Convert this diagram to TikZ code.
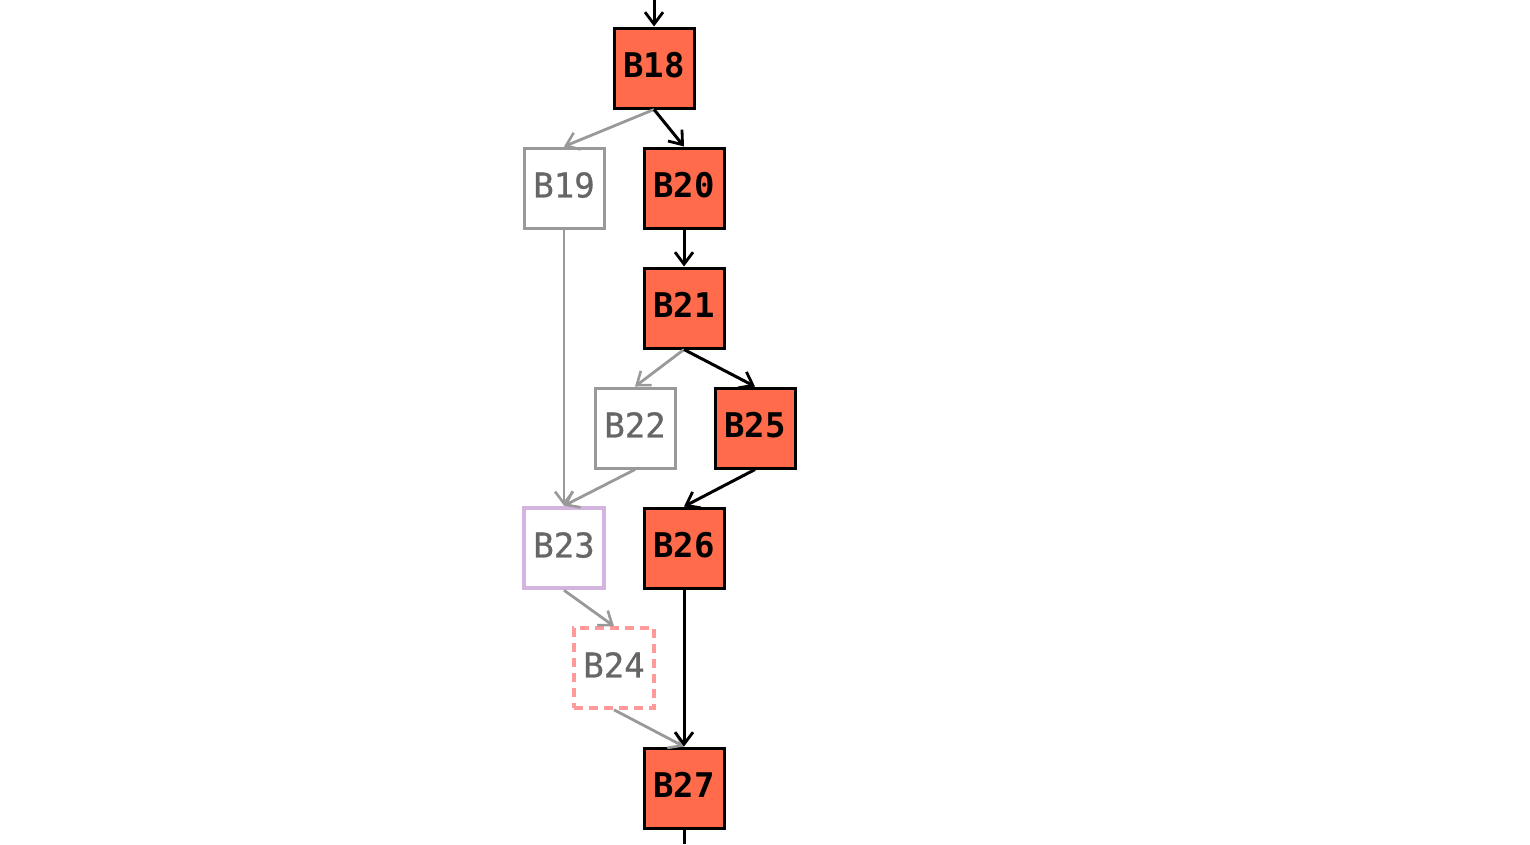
\documentclass[tikz,border=0pt]{standalone}
\usepackage{fontspec}
\setmonofont{DejaVu Sans Mono}
\newfontfamily\grayfont{DejaVu Sans Mono}[FakeBold=0.8]
\usetikzlibrary{arrows.meta}
\definecolor{hot}{HTML}{FF6B4B}
\definecolor{grayline}{HTML}{999999}
\definecolor{graytext}{HTML}{666666}
\definecolor{lav}{HTML}{D2B4DE}
\definecolor{pinkd}{HTML}{FF9A9A}
\newcommand{\lbl}[1]{\raisebox{-9.4pt}[0pt][0pt]{#1}}
\begin{document}
\begin{tikzpicture}[x=1pt,y=-1pt,
  blk/.style={minimum width=80pt,minimum height=80pt,inner sep=0pt,font=\ttfamily\bfseries\fontsize{34}{34}\selectfont},
  hotblk/.style={blk,draw=black,fill=hot,line width=3pt},
  coldblk/.style={blk,draw=grayline,fill=white,text=graytext,line width=3pt,font=\grayfont\fontsize{34}{34}\selectfont},
  hotarr/.style={draw=black,line width=3pt,-{Straight Barb[length=12pt,width=18pt,line width=2.8pt]}},
  coldarr/.style={draw=grayline,line width=2.8pt,-{Straight Barb[length=12pt,width=18pt,line width=2.6pt]}}
]
\useasboundingbox (0,0) rectangle (1530,844);
\node[hotblk] (b18) at (654,68) {\lbl{B18}};
\node[coldblk] (b19) at (564,188) {\lbl{B19}};
\node[hotblk] (b20) at (684,188) {\lbl{B20}};
\node[hotblk] (b21) at (684,308) {\lbl{B21}};
\node[coldblk] (b22) at (635,428) {\lbl{B22}};
\node[hotblk] (b25) at (755,428) {\lbl{B25}};
\node[coldblk,draw=lav,line width=4.5pt] (b23) at (564,548) {\lbl{B23}};
\node[hotblk] (b26) at (684,548) {\lbl{B26}};
\node[coldblk,draw=pinkd,line width=3.6pt,dash pattern=on 9pt off 6pt] (b24) at (614,668) {\lbl{B24}};
\node[hotblk] (b27) at (684,788) {\lbl{B27}};
\coordinate (top) at (654,0);
\coordinate (bot) at (684,844);
\draw[hotarr] (top) -- (b18.north);
\draw[coldarr] (b18.south) -- (b19.north);
\draw[hotarr] (b18.south) -- (b20.north);
\draw[hotarr] (b20.south) -- (b21.north);
\draw[coldarr] (b21.south) -- (b22.north);
\draw[hotarr] (b21.south) -- (b25.north);
\draw[coldarr] (b19.south) -- (b23.north);
\draw[coldarr] (b22.south) -- (b23.north);
\draw[hotarr] (b25.south) -- (b26.north);
\draw[coldarr] (b23.south) -- (b24.north);
\draw[coldarr] (b24.south) -- (b27.north);
\draw[hotarr] (b26.south) -- (b27.north);
\draw[draw=black,line width=3pt] (b27.south) -- (bot);
\end{tikzpicture}
\end{document}
